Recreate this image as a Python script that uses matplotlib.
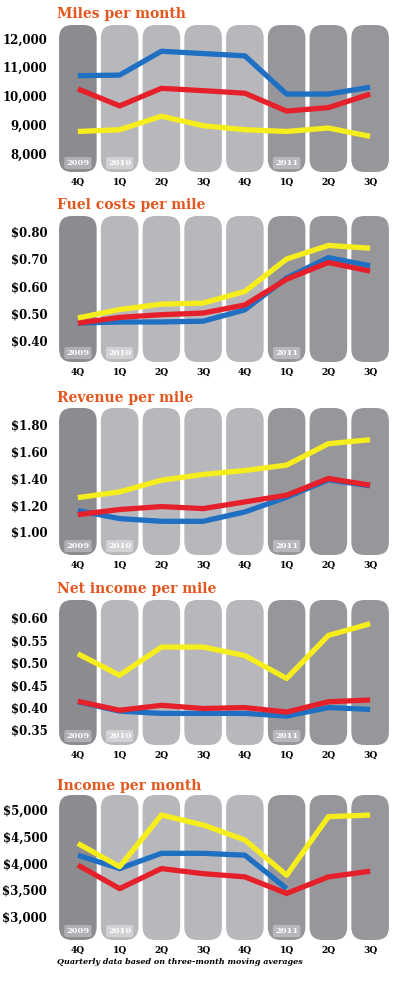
import numpy as np
import matplotlib
matplotlib.use("Agg")
import matplotlib.pyplot as plt
from matplotlib.patches import FancyBboxPatch
import matplotlib.transforms as mtransforms

# ---------------- data ----------------
quarters = ["4Q", "1Q", "2Q", "3Q", "4Q", "1Q", "2Q", "3Q"]
year_of_quarter = ["2009", "2010", "2010", "2010", "2010", "2011", "2011", "2011"]
year_labels = ["2009", "2010", "", "", "", "2011", "", ""]

titles = ["Miles per month", "Fuel costs per mile", "Revenue per mile",
          "Net income per mile", "Income per month"]

miles_blue = [10700, 10720, 11550, 11470, 11390, 10060, 10060, 10300]
miles_red = [10240, 9650, 10260, 10180, 10090, 9470, 9590, 10060]
miles_yellow = [8760, 8820, 9290, 8960, 8820, 8760, 8880, 8590]

fuel_blue = [0.463, 0.467, 0.467, 0.470, 0.512, 0.630, 0.705, 0.675]
fuel_red = [0.463, 0.484, 0.494, 0.500, 0.530, 0.625, 0.687, 0.655]
fuel_yellow = [0.482, 0.513, 0.533, 0.537, 0.580, 0.700, 0.750, 0.740]

rev_blue = [1.16, 1.10, 1.08, 1.08, 1.15, 1.26, 1.39, 1.345]
rev_red = [1.13, 1.168, 1.19, 1.175, 1.225, 1.275, 1.40, 1.35]
rev_yellow = [1.257, 1.30, 1.387, 1.43, 1.46, 1.50, 1.66, 1.69]

net_blue = [0.413, 0.392, 0.387, 0.387, 0.387, 0.381, 0.400, 0.396]
net_red = [0.414, 0.394, 0.405, 0.398, 0.400, 0.390, 0.413, 0.417]
net_yellow = [0.520, 0.472, 0.535, 0.535, 0.516, 0.465, 0.561, 0.587]

inc_blue = [4155, 3905, 4190, 4190, 4155, 3530, np.nan, np.nan]
inc_red = [3970, 3530, 3905, 3810, 3750, 3440, 3750, 3855]
inc_yellow = [4375, 3940, 4905, 4720, 4440, 3780, 4875, 4905]

ticks = [
    [8000, 9000, 10000, 11000, 12000],
    [0.40, 0.50, 0.60, 0.70, 0.80],
    [1.00, 1.20, 1.40, 1.60, 1.80],
    [0.35, 0.40, 0.45, 0.50, 0.55, 0.60],
    [3000, 3500, 4000, 4500, 5000],
]
tick_labels = [
    ["8,000", "9,000", "10,000", "11,000", "12,000"],
    ["$0.40", "$0.50", "$0.60", "$0.70", "$0.80"],
    ["$1.00", "$1.20", "$1.40", "$1.60", "$1.80"],
    ["$0.35", "$0.40", "$0.45", "$0.50", "$0.55", "$0.60"],
    ["$3,000", "$3,500", "$4,000", "$4,500", "$5,000"],
]
footer = "Quarterly data based on three-month moving averages"

series = [
    (miles_blue, miles_red, miles_yellow),
    (fuel_blue, fuel_red, fuel_yellow),
    (rev_blue, rev_red, rev_yellow),
    (net_blue, net_red, net_yellow),
    (inc_blue, inc_red, inc_yellow),
]

# ---------------- layout / style ----------------
W, H = 400, 985
fig = plt.figure(figsize=(W / 100, H / 100), dpi=100)
fig.patch.set_facecolor("white")

panel_px = [(25, 172), (216, 362), (408, 555), (600, 745), (795, 940)]
ylims = [(7350, 12463), (0.319, 0.859), (0.828, 1.927), (0.3165, 0.640), (2570, 5280)]
title_px = [14, 205, 398, 589, 786]
left_px, right_px = 57, 391

pill_colors = {"2009": "#8c8c90", "2010": "#b8b8bc", "2011": "#97979b"}
year_box = {"2009": "#b0b0b4", "2010": "#d2d2d5", "2011": "#b8b8bc"}
line_colors = ["#1f6fc2", "#e5202b", "#f6ee1c"]
title_color = "#e4561d"
FONT = "DejaVu Serif"

x = np.arange(len(quarters))

for p in range(5):
    top, bot = panel_px[p]
    ax = fig.add_axes([left_px / W, 1 - bot / H, (right_px - left_px) / W, (bot - top) / H])
    ax.set_xlim(-0.5, len(quarters) - 0.5)
    ax.set_ylim(*ylims[p])
    for s in ax.spines.values():
        s.set_visible(False)
    ax.set_facecolor("none")

    trans = mtransforms.blended_transform_factory(ax.transData, ax.transAxes)
    ax_w_px = right_px - left_px
    ax_h_px = bot - top
    xunit_px = ax_w_px / len(quarters)
    aspect = xunit_px / ax_h_px
    pw = 0.9
    r = 13 / xunit_px
    for i, yr in enumerate(year_of_quarter):
        patch = FancyBboxPatch((i - pw / 2, 0), pw, 1,
                               boxstyle=f"round,pad=0,rounding_size={r}",
                               mutation_aspect=aspect,
                               facecolor=pill_colors[yr], edgecolor="none",
                               transform=trans, zorder=0)
        ax.add_patch(patch)
        if year_labels[i]:
            ax.text(i, 9 / ax_h_px, year_labels[i], transform=trans,
                    ha="center", va="center", color="white", fontsize=6,
                    fontweight="bold", family=FONT, zorder=1,
                    bbox=dict(boxstyle="round,pad=0.25", facecolor=year_box[yr],
                              edgecolor="none"))

    b, rd, yl = series[p]
    for vals, c in zip((b, rd, yl), line_colors):
        ax.plot(x, vals, color=c, lw=3.8, solid_capstyle="butt",
                solid_joinstyle="round", zorder=3)

    ax.set_yticks(ticks[p])
    ax.set_yticklabels(tick_labels[p], family=FONT, fontweight="bold",
                       fontsize=8.5, color="black")
    ax.set_xticks(x)
    ax.set_xticklabels(quarters, family=FONT, fontweight="bold", fontsize=6.5,
                       color="black")
    ax.tick_params(axis="both", length=0)
    ax.tick_params(axis="y", pad=7)
    ax.tick_params(axis="x", pad=4)

    fig.text(left_px / W, 1 - title_px[p] / H, titles[p], color=title_color,
             fontsize=10, fontweight="bold", family=FONT, va="center", ha="left")

fig.text(left_px / W, 1 - 962 / H, footer, color="black", fontsize=5.8,
         fontweight="bold", style="italic", family=FONT, va="center", ha="left")

fig.savefig("out.png", dpi=100, facecolor="white")
